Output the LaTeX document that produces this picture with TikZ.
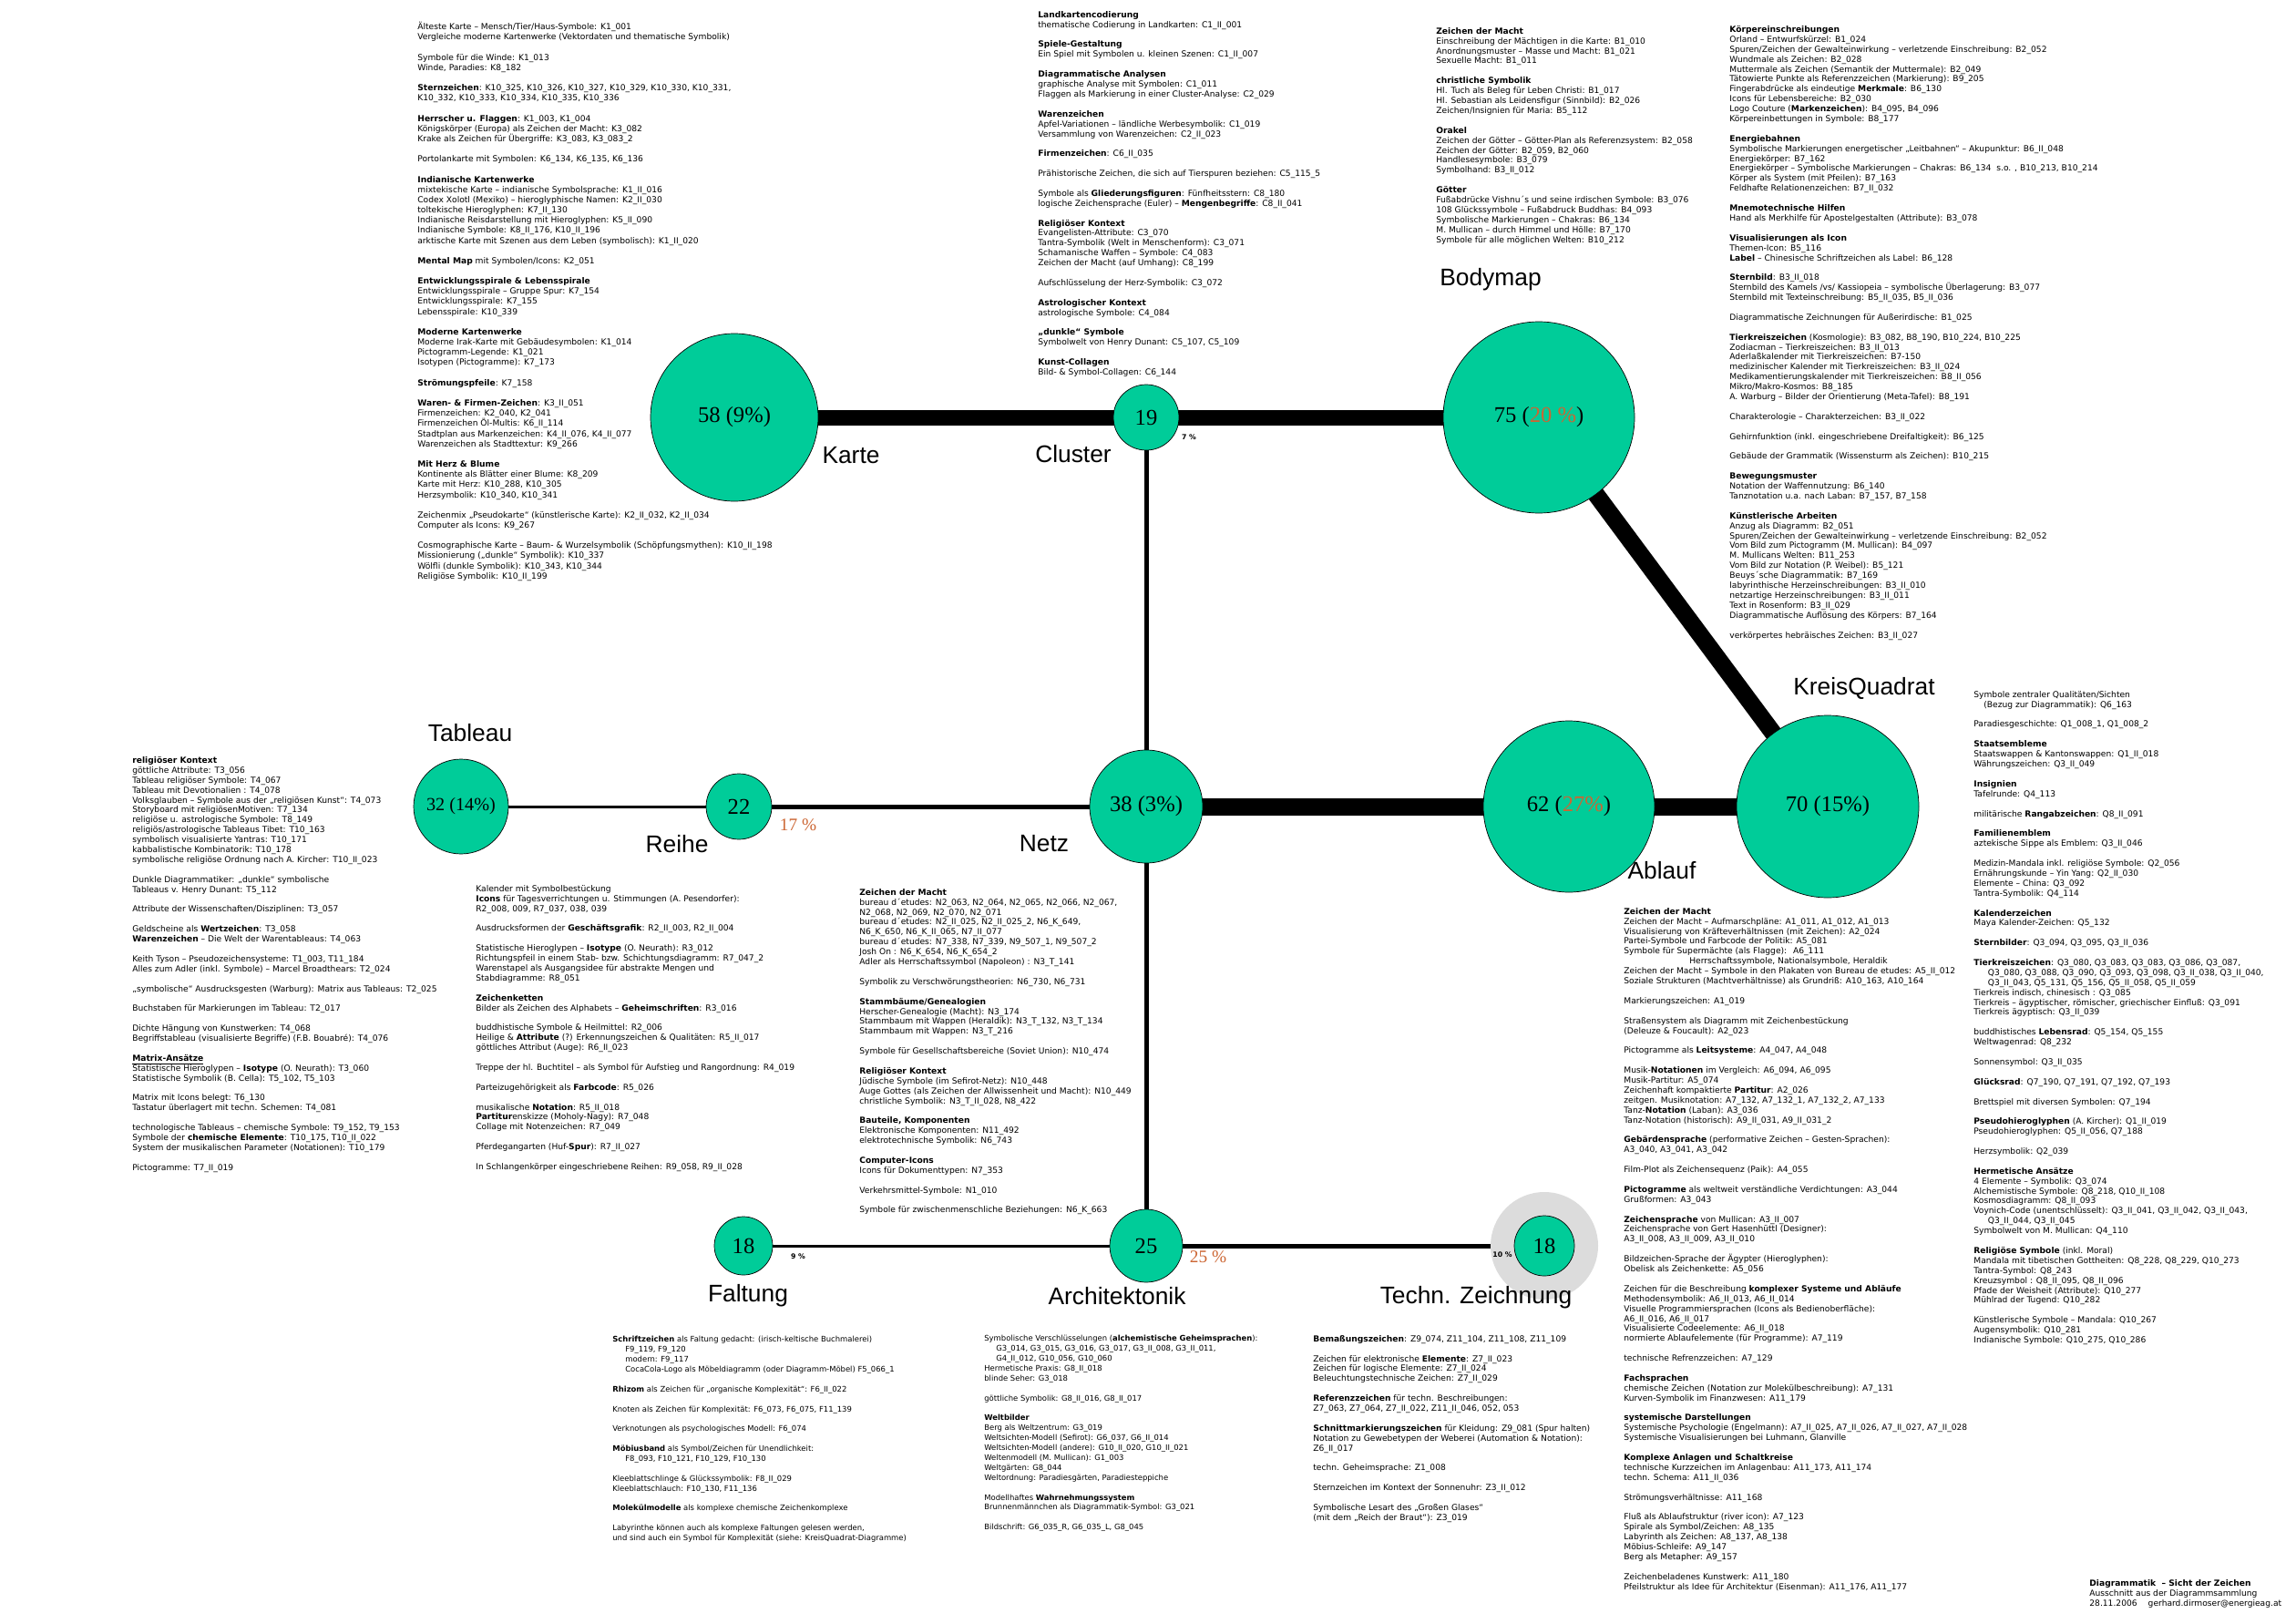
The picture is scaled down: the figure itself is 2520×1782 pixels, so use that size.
\documentclass[tikz,border=0pt]{standalone}
\usepackage{fontspec}
\setmainfont{DejaVu Sans}
\newfontfamily\labelfont{Liberation Sans}
\newfontfamily\countfont{Liberation Serif}
\definecolor{hubgreen}{RGB}{0,204,153}
\definecolor{shareorange}{RGB}{204,102,51}
\definecolor{halogray}{RGB}{220,220,220}
\usetikzlibrary{backgrounds}
\newcommand{\blankrow}{\\[\baselineskip]}

\begin{document}
\begin{tikzpicture}[
  x=0.2mm, y=-0.2mm,
  hub/.style={draw,circle,fill=hubgreen,line width=0.4pt,inner sep=0pt,
    minimum size=#1*0.4mm,font=\countfont\fontsize{14}{16}\selectfont},
  halo/.style={circle,fill=halogray,inner sep=0pt,minimum size=#1*0.4mm},
  hublabel/.style={font=\labelfont\fontsize{15}{18}\selectfont},
  share/.style={font=\countfont\fontsize{11}{13}\selectfont,text=shareorange},
  smallshare/.style={font=\bfseries\fontsize{4.4}{5}\selectfont},
  notes/.style={anchor=north west,align=left,inner sep=0pt,
    font=\fontsize{5.2}{6.2}\selectfont},
  narrownotes/.style={notes,font=\fontsize{4.8}{6.2}\selectfont},
  topbar/.style={line width=3.4mm},
  bigbar/.style={line width=3.8mm},
  smallbar/.style={line width=1.0mm},
  hairbar/.style={line width=0.6mm},
]
  \useasboundingbox (0,0) rectangle (2520,1782);

  % Hubs (circle area = share of the collection)
  \node[hub=92] (karte) at (806,458) {58 (9\%)};
  \node[hub=36] (cluster) at (1258,458) {19};
  \node[hub=105] (bodymap) at (1689,458) {75 ({\color{shareorange}20 \%})};
  \node[hub=52,font=\countfont\fontsize{11.5}{13}\selectfont] (tableau) at (506,885) {32 (14\%)};
  \node[hub=36] (reihe) at (811,885) {22};
  \node[hub=62] (netz) at (1258,885) {38 (3\%)};
  \node[hub=94] (ablauf) at (1722,885) {62 ({\color{shareorange}27\%})};
  \node[hub=100] (kreisquadrat) at (2006,885) {70 (15\%)};
  \node[hub=32] (faltung) at (816,1367) {18};
  \node[hub=40] (architektonik) at (1258,1367) {25};
  \node[halo=59] (technHalo) at (1695,1367) {};
  \node[hub=33] (techn) at (1695,1367) {18};

  % Links
  \begin{scope}[on background layer]
    \draw[topbar] (karte.center) -- (cluster.center) -- (bodymap.center);
    \draw[bigbar] (bodymap.center) -- (kreisquadrat.center);
    \draw[bigbar] (netz.center) -- (ablauf.center) -- (kreisquadrat.center);
    \draw[smallbar] (cluster.center) -- (netz.center);
    \draw[smallbar] (netz.center) -- (architektonik.center);
    \draw[hairbar] (tableau.center) -- (reihe.center);
    \draw[smallbar] (reihe.center) -- (netz.center);
    \draw[hairbar] (faltung.center) -- (architektonik.center);
    \draw[smallbar] (architektonik.center) -- (techn.center);
  \end{scope}

  % Hub names
  \node[hublabel] (karteLbl) at (934,500) {Karte};
  \node[hublabel] (clusterLbl) at (1178,498) {Cluster};
  \node[hublabel] (bodymapLbl) at (1636,307) {Bodymap};
  \node[hublabel] (tableauLbl) at (516,804) {Tableau};
  \node[hublabel] (reiheLbl) at (743,926) {Reihe};
  \node[hublabel] (netzLbl) at (1146,926) {Netz};
  \node[hublabel] (kreisquadratLbl) at (2046,755) {KreisQuadrat};
  \node[hublabel] (ablaufLbl) at (1824,955) {Ablauf};
  \node[hublabel] (faltungLbl) at (821,1422) {Faltung};
  \node[hublabel] (architektonikLbl) at (1226,1422) {Architektonik};
  \node[hublabel] (technLbl) at (1620,1424) {Techn. Zeichnung};

  % Shares on the links
  \node[smallshare] (clusterShare) at (1305,480) {7 \%};
  \node[share] (reiheShare) at (876,905) {17 \%};
  \node[smallshare] (faltungShare) at (876,1379) {9 \%};
  \node[share] (architektonikShare) at (1326,1379) {25 \%};
  \node[smallshare] (technShare) at (1649,1377) {10 \%};

  % Karte
  \node[notes,font=\fontsize{5.2}{6.35}\selectfont] (karteNotes) at (458,24) {%
    Älteste Karte – Mensch/Tier/Haus-Symbole: K1\_001\\
    Vergleiche moderne Kartenwerke (Vektordaten und thematische Symbolik)\blankrow
    Symbole für die Winde: K1\_013\\
    Winde, Paradies: K8\_182\blankrow
    \textbf{Sternzeichen}: K10\_325, K10\_326, K10\_327, K10\_329, K10\_330, K10\_331,\\
    K10\_332, K10\_333, K10\_334, K10\_335, K10\_336\blankrow
    \textbf{Herrscher u. Flaggen}: K1\_003, K1\_004\\
    Königskörper (Europa) als Zeichen der Macht: K3\_082\\
    Krake als Zeichen für Übergriffe: K3\_083, K3\_083\_2\blankrow
    Portolankarte mit Symbolen: K6\_134, K6\_135, K6\_136\blankrow
    \textbf{Indianische Kartenwerke}\\
    mixtekische Karte – indianische Symbolsprache: K1\_II\_016\\
    Codex Xolotl (Mexiko) – hieroglyphische Namen: K2\_II\_030\\
    toltekische Hieroglyphen: K7\_II\_130\\
    Indianische Reisdarstellung mit Hieroglyphen: K5\_II\_090\\
    Indianische Symbole: K8\_II\_176, K10\_II\_196\\
    arktische Karte mit Szenen aus dem Leben (symbolisch): K1\_II\_020\blankrow
    \textbf{Mental Map} mit Symbolen/Icons: K2\_051\blankrow
    \textbf{Entwicklungsspirale \& Lebensspirale}\\
    Entwicklungsspirale – Gruppe Spur: K7\_154\\
    Entwicklungsspirale: K7\_155\\
    Lebensspirale: K10\_339\blankrow
    \textbf{Moderne Kartenwerke}\\
    Moderne Irak-Karte mit Gebäudesymbolen: K1\_014\\
    Pictogramm-Legende: K1\_021\\
    Isotypen (Pictogramme): K7\_173\blankrow
    \textbf{Strömungspfeile}: K7\_158\blankrow
    \textbf{Waren- \& Firmen-Zeichen}: K3\_II\_051\\
    Firmenzeichen: K2\_040, K2\_041\\
    Firmenzeichen Öl-Multis: K6\_II\_114\\
    Stadtplan aus Markenzeichen: K4\_II\_076, K4\_II\_077\\
    Warenzeichen als Stadttextur: K9\_266\blankrow
    \textbf{Mit Herz \& Blume}\\
    Kontinente als Blätter einer Blume: K8\_209\\
    Karte mit Herz: K10\_288, K10\_305\\
    Herzsymbolik: K10\_340, K10\_341\blankrow
    Zeichenmix „Pseudokarte“ (künstlerische Karte): K2\_II\_032, K2\_II\_034\\
    Computer als Icons: K9\_267\blankrow
    Cosmographische Karte – Baum- \& Wurzelsymbolik (Schöpfungsmythen): K10\_II\_198\\
    Missionierung („dunkle“ Symbolik): K10\_337\\
    Wölfli (dunkle Symbolik): K10\_343, K10\_344\\
    Religiöse Symbolik: K10\_II\_199};

  % Cluster
  \node[notes] (clusterNotes) at (1139,12) {%
    \textbf{Landkartencodierung}\\
    thematische Codierung in Landkarten: C1\_II\_001\blankrow
    \textbf{Spiele-Gestaltung}\\
    Ein Spiel mit Symbolen u. kleinen Szenen: C1\_II\_007\blankrow
    \textbf{Diagrammatische Analysen}\\
    graphische Analyse mit Symbolen: C1\_011\\
    Flaggen als Markierung in einer Cluster-Analyse: C2\_029\blankrow
    \textbf{Warenzeichen}\\
    Apfel-Variationen – ländliche Werbesymbolik: C1\_019\\
    Versammlung von Warenzeichen: C2\_II\_023\blankrow
    \textbf{Firmenzeichen}: C6\_II\_035\blankrow
    Prähistorische Zeichen, die sich auf Tierspuren beziehen: C5\_115\_5\blankrow
    Symbole als \textbf{Gliederungsfiguren}: Fünfheitsstern: C8\_180\\
    logische Zeichensprache (Euler) – \textbf{Mengenbegriffe}: C8\_II\_041\blankrow
    \textbf{Religiöser Kontext}\\
    Evangelisten-Attribute: C3\_070\\
    Tantra-Symbolik (Welt in Menschenform): C3\_071\\
    Schamanische Waffen – Symbole: C4\_083\\
    Zeichen der Macht (auf Umhang): C8\_199\blankrow
    Aufschlüsselung der Herz-Symbolik: C3\_072\blankrow
    \textbf{Astrologischer Kontext}\\
    astrologische Symbole: C4\_084\blankrow
    \textbf{„dunkle“ Symbole}\\
    Symbolwelt von Henry Dunant: C5\_107, C5\_109\blankrow
    \textbf{Kunst-Collagen}\\
    Bild- \& Symbol-Collagen: C6\_144};

  % Bodymap
  \node[notes] (bodymapNotesA) at (1576,30) {%
    \textbf{Zeichen der Macht}\\
    Einschreibung der Mächtigen in die Karte: B1\_010\\
    Anordnungsmuster – Masse und Macht: B1\_021\\
    Sexuelle Macht: B1\_011\blankrow
    \textbf{christliche Symbolik}\\
    Hl. Tuch als Beleg für Leben Christi: B1\_017\\
    Hl. Sebastian als Leidensfigur (Sinnbild): B2\_026\\
    Zeichen/Insignien für Maria: B5\_112\blankrow
    \textbf{Orakel}\\
    Zeichen der Götter – Götter-Plan als Referenzsystem: B2\_058\\
    Zeichen der Götter: B2\_059, B2\_060\\
    Handlesesymbole: B3\_079\\
    Symbolhand: B3\_II\_012\blankrow
    \textbf{Götter}\\
    Fußabdrücke Vishnu´s und seine irdischen Symbole: B3\_076\\
    108 Glückssymbole – Fußabdruck Buddhas: B4\_093\\
    Symbolische Markierungen – Chakras: B6\_134\\
    M. Mullican – durch Himmel und Hölle: B7\_170\\
    Symbole für alle möglichen Welten: B10\_212};

  \node[notes] (bodymapNotesB) at (1898,28) {%
    \textbf{Körpereinschreibungen}\\
    Orland – Entwurfskürzel: B1\_024\\
    Spuren/Zeichen der Gewalteinwirkung – verletzende Einschreibung: B2\_052\\
    Wundmale als Zeichen: B2\_028\\
    Muttermale als Zeichen (Semantik der Muttermale): B2\_049\\
    Tätowierte Punkte als Referenzzeichen (Markierung): B9\_205\\
    Fingerabdrücke als eindeutige \textbf{Merkmale}: B6\_130\\
    Icons für Lebensbereiche: B2\_030\\
    Logo Couture (\textbf{Markenzeichen}): B4\_095, B4\_096\\
    Körpereinbettungen in Symbole: B8\_177\blankrow
    \textbf{Energiebahnen}\\
    Symbolische Markierungen energetischer „Leitbahnen“ – Akupunktur: B6\_II\_048\\
    Energiekörper: B7\_162\\
    Energiekörper – Symbolische Markierungen – Chakras: B6\_134 \ s.o. , B10\_213, B10\_214\\
    Körper als System (mit Pfeilen): B7\_163\\
    Feldhafte Relationenzeichen: B7\_II\_032\blankrow
    \textbf{Mnemotechnische Hilfen}\\
    Hand als Merkhilfe für Apostelgestalten (Attribute): B3\_078\blankrow
    \textbf{Visualisierungen als Icon}\\
    Themen-Icon: B5\_116\\
    \textbf{Label} – Chinesische Schriftzeichen als Label: B6\_128\blankrow
    \textbf{Sternbild}: B3\_II\_018\\
    Sternbild des Kamels /vs/ Kassiopeia – symbolische Überlagerung: B3\_077\\
    Sternbild mit Texteinschreibung: B5\_II\_035, B5\_II\_036\blankrow
    Diagrammatische Zeichnungen für Außerirdische: B1\_025\blankrow
    \textbf{Tierkreiszeichen} (Kosmologie): B3\_082, B8\_190, B10\_224, B10\_225\\
    Zodiacman – Tierkreiszeichen: B3\_II\_013\\
    Aderlaßkalender mit Tierkreiszeichen: B7-150\\
    medizinischer Kalender mit Tierkreiszeichen: B3\_II\_024\\
    Medikamentierungskalender mit Tierkreiszeichen: B8\_II\_056\\
    Mikro/Makro-Kosmos: B8\_185\\
    A. Warburg – Bilder der Orientierung (Meta-Tafel): B8\_191\blankrow
    Charakterologie – Charakterzeichen: B3\_II\_022\blankrow
    Gehirnfunktion (inkl. eingeschriebene Dreifaltigkeit): B6\_125\blankrow
    Gebäude der Grammatik (Wissensturm als Zeichen): B10\_215\blankrow
    \textbf{Bewegungsmuster}\\
    Notation der Waffennutzung: B6\_140\\
    Tanznotation u.a. nach Laban: B7\_157, B7\_158\blankrow
    \textbf{Künstlerische Arbeiten}\\
    Anzug als Diagramm: B2\_051\\
    Spuren/Zeichen der Gewalteinwirkung – verletzende Einschreibung: B2\_052\\
    Vom Bild zum Pictogramm (M. Mullican): B4\_097\\
    M. Mullicans Welten: B11\_253\\
    Vom Bild zur Notation (P. Weibel): B5\_121\\
    Beuys´sche Diagrammatik: B7\_169\\
    labyrinthische Herzeinschreibungen: B3\_II\_010\\
    netzartige Herzeinschreibungen: B3\_II\_011\\
    Text in Rosenform: B3\_II\_029\\
    Diagrammatische Auflösung des Körpers: B7\_164\blankrow
    verkörpertes hebräisches Zeichen: B3\_II\_027};

  % Tableau
  \node[notes] (tableauNotes) at (145,830) {%
    \textbf{religiöser Kontext}\\
    göttliche Attribute: T3\_056\\
    Tableau religiöser Symbole: T4\_067\\
    Tableau mit Devotionalien : T4\_078\\
    Volksglauben – Symbole aus der „religiösen Kunst“: T4\_073\\
    Storyboard mit religiösenMotiven: T7\_134\\
    religiöse u. astrologische Symbole: T8\_149\\
    religiös/astrologische Tableaus Tibet: T10\_163\\
    symbolisch visualisierte Yantras: T10\_171\\
    kabbalistische Kombinatorik: T10\_178\\
    symbolische religiöse Ordnung nach A. Kircher: T10\_II\_023\blankrow
    Dunkle Diagrammatiker: „dunkle“ symbolische\\
    Tableaus v. Henry Dunant: T5\_112\blankrow
    Attribute der Wissenschaften/Disziplinen: T3\_057\blankrow
    Geldscheine als \textbf{Wertzeichen}: T3\_058\\
    \textbf{Warenzeichen} – Die Welt der Warentableaus: T4\_063\blankrow
    Keith Tyson – Pseudozeichensysteme: T1\_003, T11\_184\\
    Alles zum Adler (inkl. Symbole) – Marcel Broadthears: T2\_024\blankrow
    „symbolische“ Ausdrucksgesten (Warburg): Matrix aus Tableaus: T2\_025\blankrow
    Buchstaben für Markierungen im Tableau: T2\_017\blankrow
    Dichte Hängung von Kunstwerken: T4\_068\\
    Begriffstableau (visualisierte Begriffe) (F.B. Bouabré): T4\_076\blankrow
    \underline{\textbf{Matrix-Ansätze}}\\
    Statistische Hieroglypen – \textbf{Isotype} (O. Neurath): T3\_060\\
    Statistische Symbolik (B. Cella): T5\_102, T5\_103\blankrow
    Matrix mit Icons belegt: T6\_130\\
    Tastatur überlagert mit techn. Schemen: T4\_081\blankrow
    technologische Tableaus – chemische Symbole: T9\_152, T9\_153\\
    Symbole der \textbf{chemische Elemente}: T10\_175, T10\_II\_022\\
    System der musikalischen Parameter (Notationen): T10\_179\blankrow
    Pictogramme: T7\_II\_019};

  % Reihe
  \node[notes] (reiheNotes) at (522,971) {%
    Kalender mit Symbolbestückung\\
    \textbf{Icons} für Tagesverrichtungen u. Stimmungen (A. Pesendorfer):\\
    R2\_008, 009, R7\_037, 038, 039\blankrow
    Ausdrucksformen der \textbf{Geschäftsgrafik}: R2\_II\_003, R2\_II\_004\blankrow
    Statistische Hieroglypen – \textbf{Isotype} (O. Neurath): R3\_012\\
    Richtungspfeil in einem Stab- bzw. Schichtungsdiagramm: R7\_047\_2\\
    Warenstapel als Ausgangsidee für abstrakte Mengen und\\
    Stabdiagramme: R8\_051\blankrow
    \textbf{Zeichenketten}\\
    Bilder als Zeichen des Alphabets – \textbf{Geheimschriften}: R3\_016\blankrow
    buddhistische Symbole \& Heilmittel: R2\_006\\
    Heilige \& \textbf{Attribute} (?) Erkennungszeichen \& Qualitäten: R5\_II\_017\\
    göttliches Attribut (Auge): R6\_II\_023\blankrow
    Treppe der hl. Buchtitel – als Symbol für Aufstieg und Rangordnung: R4\_019\blankrow
    Parteizugehörigkeit als \textbf{Farbcode}: R5\_026\blankrow
    musikalische \textbf{Notation}: R5\_II\_018\\
    \textbf{Partitur}enskizze (Moholy-Nagy): R7\_048\\
    Collage mit Notenzeichen: R7\_049\blankrow
    Pferdegangarten (Huf-\textbf{Spur}): R7\_II\_027\blankrow
    In Schlangenkörper eingeschriebene Reihen: R9\_058, R9\_II\_028};

  % Netz
  \node[notes] (netzNotes) at (943,975) {%
    \textbf{Zeichen der Macht}\\
    bureau d´etudes: N2\_063, N2\_064, N2\_065, N2\_066, N2\_067,\\
    N2\_068, N2\_069, N2\_070, N2\_071\\
    bureau d´etudes: N2\_II\_025, N2\_II\_025\_2, N6\_K\_649,\\
    N6\_K\_650, N6\_K\_II\_065, N7\_II\_077\\
    bureau d´etudes: N7\_338, N7\_339, N9\_507\_1, N9\_507\_2\\
    Josh On : N6\_K\_654, N6\_K\_654\_2\\
    Adler als Herrschaftssymbol (Napoleon) : N3\_T\_141\blankrow
    Symbolik zu Verschwörungstheorien: N6\_730, N6\_731\blankrow
    \textbf{Stammbäume/Genealogien}\\
    Herscher-Genealogie (Macht): N3\_174\\
    Stammbaum mit Wappen (Heraldik): N3\_T\_132, N3\_T\_134\\
    Stammbaum mit Wappen: N3\_T\_216\blankrow
    Symbole für Gesellschaftsbereiche (Soviet Union): N10\_474\blankrow
    \textbf{Religiöser Kontext}\\
    Jüdische Symbole (im Sefirot-Netz): N10\_448\\
    Auge Gottes (als Zeichen der Allwissenheit und Macht): N10\_449\\
    christliche Symbolik: N3\_T\_II\_028, N8\_422\blankrow
    \textbf{Bauteile, Komponenten}\\
    Elektronische Komponenten: N11\_492\\
    elektrotechnische Symbolik: N6\_743\blankrow
    \textbf{Computer-Icons}\\
    Icons für Dokumenttypen: N7\_353\blankrow
    Verkehrsmittel-Symbole: N1\_010\blankrow
    Symbole für zwischenmenschliche Beziehungen: N6\_K\_663};

  % Ablauf
  \node[notes] (ablaufNotes) at (1782,996) {%
    \textbf{Zeichen der Macht}\\
    Zeichen der Macht – Aufmarschpläne: A1\_011, A1\_012, A1\_013\\
    Visualisierung von Kräfteverhältnissen (mit Zeichen): A2\_024\\
    Partei-Symbole und Farbcode der Politik: A5\_081\\
    Symbole für Supermächte (als Flagge): \ A6\_111\\
    \hspace*{14.4mm}Herrschaftssymbole, Nationalsymbole, Heraldik\\
    Zeichen der Macht – Symbole in den Plakaten von Bureau de etudes: A5\_II\_012\\
    Soziale Strukturen (Machtverhältnisse) als Grundriß: A10\_163, A10\_164\blankrow
    Markierungszeichen: A1\_019\blankrow
    Straßensystem als Diagramm mit Zeichenbestückung\\
    (Deleuze \& Foucault): A2\_023\blankrow
    Pictogramme als \textbf{Leitsysteme}: A4\_047, A4\_048\blankrow
    Musik-\textbf{Notationen} im Vergleich: A6\_094, A6\_095\\
    Musik-Partitur: A5\_074\\
    Zeichenhaft kompaktierte \textbf{Partitur}: A2\_026\\
    zeitgen. Musiknotation: A7\_132, A7\_132\_1, A7\_132\_2, A7\_133\\
    Tanz-\textbf{Notation} (Laban): A3\_036\\
    Tanz-Notation (historisch): A9\_II\_031, A9\_II\_031\_2\blankrow
    \textbf{Gebärdensprache} (performative Zeichen – Gesten-Sprachen):\\
    A3\_040, A3\_041, A3\_042\blankrow
    Film-Plot als Zeichensequenz (Paik): A4\_055\blankrow
    \textbf{Pictogramme} als weltweit verständliche Verdichtungen: A3\_044\\
    Grußformen: A3\_043\blankrow
    \textbf{Zeichensprache} von Mullican: A3\_II\_007\\
    Zeichensprache von Gert Hasenhüttl (Designer):\\
    A3\_II\_008, A3\_II\_009, A3\_II\_010\blankrow
    Bildzeichen-Sprache der Ägypter (Hieroglyphen):\\
    Obelisk als Zeichenkette: A5\_056\blankrow
    Zeichen für die Beschreibung \textbf{komplexer Systeme und Abläufe}\\
    Methodensymbolik: A6\_II\_013, A6\_II\_014\\
    Visuelle Programmiersprachen (Icons als Bedienoberfläche):\\
    A6\_II\_016, A6\_II\_017\\
    Visualisierte Codeelemente: A6\_II\_018\\
    normierte Ablaufelemente (für Programme): A7\_119\blankrow
    technische Refrenzzeichen: A7\_129\blankrow
    \textbf{Fachsprachen}\\
    chemische Zeichen (Notation zur Molekülbeschreibung): A7\_131\\
    Kurven-Symbolik im Finanzwesen: A11\_179\blankrow
    \textbf{systemische Darstellungen}\\
    Systemische Psychologie (Engelmann): A7\_II\_025, A7\_II\_026, A7\_II\_027, A7\_II\_028\\
    Systemische Visualisierungen bei Luhmann, Glanville\blankrow
    \textbf{Komplexe Anlagen und Schaltkreise}\\
    technische Kurzzeichen im Anlagenbau: A11\_173, A11\_174\\
    techn. Schema: A11\_II\_036\blankrow
    Strömungsverhältnisse: A11\_168\blankrow
    Fluß als Ablaufstruktur (river icon): A7\_123\\
    Spirale als Symbol/Zeichen: A8\_135\\
    Labyrinth als Zeichen: A8\_137, A8\_138\\
    Möbius-Schleife: A9\_147\\
    Berg als Metapher: A9\_157\blankrow
    Zeichenbeladenes Kunstwerk: A11\_180\\
    Pfeilstruktur als Idee für Architektur (Eisenman): A11\_176, A11\_177};

  % KreisQuadrat
  \node[notes] (kreisquadratNotes) at (2166,758) {%
    Symbole zentraler Qualitäten/Sichten\\
    \hspace*{2.2mm}(Bezug zur Diagrammatik): Q6\_163\blankrow
    Paradiesgeschichte: Q1\_008\_1, Q1\_008\_2\blankrow
    \textbf{Staatsembleme}\\
    Staatswappen \& Kantonswappen: Q1\_II\_018\\
    Währungszeichen: Q3\_II\_049\blankrow
    \textbf{Insignien}\\
    Tafelrunde: Q4\_113\blankrow
    militärische \textbf{Rangabzeichen}: Q8\_II\_091\blankrow
    \textbf{Familienemblem}\\
    aztekische Sippe als Emblem: Q3\_II\_046\blankrow
    Medizin-Mandala inkl. religiöse Symbole: Q2\_056\\
    Ernährungskunde – Yin Yang: Q2\_II\_030\\
    Elemente – China: Q3\_092\\
    Tantra-Symbolik: Q4\_114\blankrow
    \textbf{Kalenderzeichen}\\
    Maya Kalender-Zeichen: Q5\_132\blankrow
    \textbf{Sternbilder}: Q3\_094, Q3\_095, Q3\_II\_036\blankrow
    \textbf{Tierkreiszeichen}: Q3\_080, Q3\_083, Q3\_083, Q3\_086, Q3\_087,\\
    \hspace*{3.1mm}Q3\_080, Q3\_088, Q3\_090, Q3\_093, Q3\_098, Q3\_II\_038, Q3\_II\_040,\\
    \hspace*{3.1mm}Q3\_II\_043, Q5\_131, Q5\_156, Q5\_II\_058, Q5\_II\_059\\
    Tierkreis indisch, chinesisch : Q3\_085\\
    Tierkreis – ägyptischer, römischer, griechischer Einfluß: Q3\_091\\
    Tierkreis ägyptisch: Q3\_II\_039\blankrow
    buddhistisches \textbf{Lebensrad}: Q5\_154, Q5\_155\\
    Weltwagenrad: Q8\_232\blankrow
    Sonnensymbol: Q3\_II\_035\blankrow
    \textbf{Glücksrad}: Q7\_190, Q7\_191, Q7\_192, Q7\_193\blankrow
    Brettspiel mit diversen Symbolen: Q7\_194\blankrow
    \textbf{Pseudohieroglyphen} (A. Kircher): Q1\_II\_019\\
    Pseudohieroglyphen: Q5\_II\_056, Q7\_188\blankrow
    Herzsymbolik: Q2\_039\blankrow
    \textbf{Hermetische Ansätze}\\
    4 Elemente – Symbolik: Q3\_074\\
    Alchemistische Symbole: Q8\_218, Q10\_II\_108\\
    Kosmosdiagramm: Q8\_II\_093\\
    Voynich-Code (unentschlüsselt): Q3\_II\_041, Q3\_II\_042, Q3\_II\_043,\\
    \hspace*{3.1mm}Q3\_II\_044, Q3\_II\_045\\
    Symbolwelt von M. Mullican: Q4\_110\blankrow
    \textbf{Religiöse Symbole} (inkl. Moral)\\
    Mandala mit tibetischen Gottheiten: Q8\_228, Q8\_229, Q10\_273\\
    Tantra-Symbol: Q8\_243\\
    Kreuzsymbol : Q8\_II\_095, Q8\_II\_096\\
    Pfade der Weisheit (Attribute): Q10\_277\\
    Mühlrad der Tugend: Q10\_282\blankrow
    Künstlerische Symbole – Mandala: Q10\_267\\
    Augensymbolik: Q10\_281\\
    Indianische Symbole: Q10\_275, Q10\_286};

  % Faltung
  \node[narrownotes] (faltungNotes) at (672,1466) {%
    \textbf{Schriftzeichen} als Faltung gedacht: (irisch-keltische Buchmalerei)\\
    \hspace*{2.8mm}F9\_119, F9\_120\\
    \hspace*{2.8mm}modern: F9\_117\\
    \hspace*{2.8mm}CocaCola-Logo als Möbeldiagramm (oder Diagramm-Möbel) F5\_066\_1\blankrow
    \textbf{Rhizom} als Zeichen für „organische Komplexität“: F6\_II\_022\blankrow
    Knoten als Zeichen für Komplexität: F6\_073, F6\_075, F11\_139\blankrow
    Verknotungen als psychologisches Modell: F6\_074\blankrow
    \textbf{Möbiusband} als Symbol/Zeichen für Unendlichkeit:\\
    \hspace*{2.8mm}F8\_093, F10\_121, F10\_129, F10\_130\blankrow
    Kleeblattschlinge \& Glückssymbolik: F8\_II\_029\\
    Kleeblattschlauch: F10\_130, F11\_136\blankrow
    \textbf{Molekülmodelle} als komplexe chemische Zeichenkomplexe\blankrow
    Labyrinthe können auch als komplexe Faltungen gelesen werden,\\
    und sind auch ein Symbol für Komplexität (siehe: KreisQuadrat-Diagramme)};

  % Architektonik
  \node[narrownotes] (architektonikNotes) at (1080,1465) {%
    Symbolische Verschlüsselungen (\textbf{alchemistische Geheimsprachen}):\\
    \hspace*{2.6mm}G3\_014, G3\_015, G3\_016, G3\_017, G3\_II\_008, G3\_II\_011,\\
    \hspace*{2.6mm}G4\_II\_012, G10\_056, G10\_060\\
    Hermetische Praxis: G8\_II\_018\\
    blinde Seher: G3\_018\blankrow
    göttliche Symbolik: G8\_II\_016, G8\_II\_017\blankrow
    \textbf{Weltbilder}\\
    Berg als Weltzentrum: G3\_019\\
    Weltsichten-Modell (Sefirot): G6\_037, G6\_II\_014\\
    Weltsichten-Modell (andere): G10\_II\_020, G10\_II\_021\\
    Weltenmodell (M. Mullican): G1\_003\\
    Weltgärten: G8\_044\\
    Weltordnung: Paradiesgärten, Paradiesteppiche\blankrow
    Modellhaftes \textbf{Wahrnehmungssystem}\\
    Brunnenmännchen als Diagrammatik-Symbol: G3\_021\blankrow
    Bildschrift: G6\_035\_R, G6\_035\_L, G8\_045};

  % Techn. Zeichnung
  \node[notes] (technNotes) at (1441,1465) {%
    \textbf{Bemaßungszeichen}: Z9\_074, Z11\_104, Z11\_108, Z11\_109\blankrow
    Zeichen für elektronische \textbf{Elemente}: Z7\_II\_023\\
    Zeichen für logische Elemente: Z7\_II\_024\\
    Beleuchtungstechnische Zeichen: Z7\_II\_029\blankrow
    \textbf{Referenzzeichen} für techn. Beschreibungen:\\
    Z7\_063, Z7\_064, Z7\_II\_022, Z11\_II\_046, 052, 053\blankrow
    \textbf{Schnittmarkierungszeichen} für Kleidung: Z9\_081 (Spur halten)\\
    Notation zu Gewebetypen der Weberei (Automation \& Notation):\\
    Z6\_II\_017\blankrow
    techn. Geheimsprache: Z1\_008\blankrow
    Sternzeichen im Kontext der Sonnenuhr: Z3\_II\_012\blankrow
    Symbolische Lesart des „Großen Glases“\\
    (mit dem „Reich der Braut“): Z3\_019};

  % Footer
  \node[notes] (footer) at (2293,1733) {%
    \textbf{Diagrammatik \ – Sicht der Zeichen}\\
    Ausschnitt aus der Diagrammsammlung\\
    28.11.2006 \quad gerhard.dirmoser@energieag.at};
\end{tikzpicture}
\end{document}
